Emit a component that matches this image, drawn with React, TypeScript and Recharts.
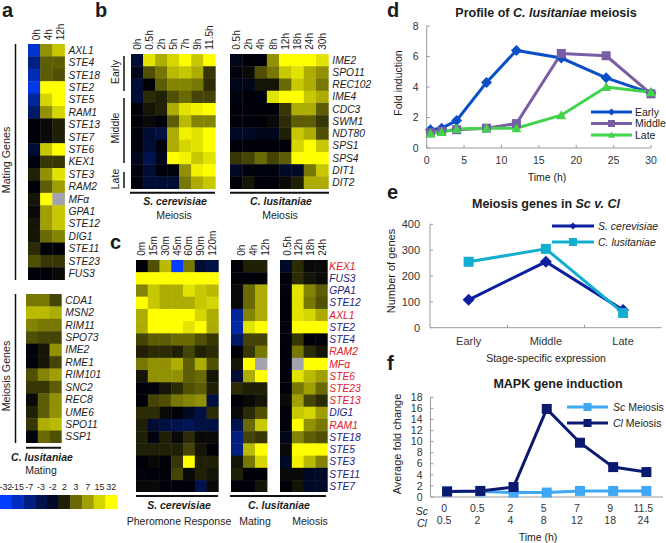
import React from 'react';
import { ScatterChart, Scatter, XAxis, YAxis, LineChart, Line, Legend } from 'recharts';

const G = null; // grey, missing measurement
const FONT = '"Liberation Sans", Arial, sans-serif';
const INK = '#1c1c1c';
const AXIS = '#9a9a9a';

// ---- Panel a
const matingGenesA = ['AXL1','STE4','STE18','STE2','STE5','RAM1','STE13','STE7','STE6','KEX1','STE3','RAM2','MFα','GPA1','STE12','DIG1','STE11','STE23','FUS3'];
const matingHoursA = ['0h','4h','12h'];
const matingValuesA = [
  [-8,6,8],[-5,4,4],[-7,4,3.5],[-9,10,10],[-6,8.5,10],[-4,6,8.5],[0,0.5,1.5],[0,0.5,1.5],[-2,8,10],[-0.5,2.5,2.5],
  [1.5,6,9],[0,4,6.5],[1,10,G],[0.5,6.5,8],[1,6.5,8],[1,4.5,5.5],[2,0,0],[3.5,2.5,2.5],[0,0,0.5],
];
const meiosisGenesA = ['CDA1','MSN2','RIM11','SPO73','IME2','RME1','RIM101','SNC2','REC8','UME6','SPO11','SSP1'];
const meiosisValuesA = [
  [5,5,3],[7.5,7.5,7],[5.5,5,5],[3.5,3,3],[-0.5,1,6],[-0.5,1,3],[3.5,5.5,6.5],[2.5,2.5,4],[0.5,4,6],[1.5,4,6],[2.5,7,7.5],[-0.5,4.5,3.5],
];
const scaleLabels = ['-32','-15','-7','-3','-2','2','3','7','15','32'];
const scaleValues = [[-10,-7.5,-5,-3,-1.5,1.5,4.5,6.5,8.5,10]];

// ---- Panel b
const meiosisGenesB = ['IME2','SPO11','REC102','IME4','CDC3','SWM1','NDT80','SPS1','SPS4','DIT1','DIT2'];
const scHoursB = ['0h','0.5h','2h','5h','7h','9h','11.5h'];
const scValuesB = [
  [-2,9,7,8.5,10,8,10],[-1,3.5,5,7.5,8,7,2.5],[-2,0,4,5.5,5.5,5,2],[-2,2,1.5,3.5,4.5,3,3],[0,1,1.5,7,9,9.5,10],
  [0,0.5,0,4,7.5,5.5,5.5],[-0.5,-2,-2.5,7,9.5,9,10],[-0.5,-2,-0.5,7,8.5,9,10],[-1,-3,-1,10,9.5,8,9],[-0.5,-2,0,-0.5,6,9.5,10],[-0.5,-2,-2,-2,5,7,8],
];
const clHoursB = ['0.5h','2h','4h','8h','12h','18h','24h','30h'];
const clValuesB = [
  [-1,0,0,6,10,10,10,9],[-0.5,0.5,3.5,5,8,9,7,6],[-1,-1,1,1,4.5,8,7,5],[-0.5,0,-0.5,9,10,10,8,7],[0,0,0,0,2.5,7,7,4],
  [0,0,0,0.5,2,4,4,2.5],[-1.5,-1.5,-1,-1,1.5,8,7,3.5],[0,0,0,0,0,8.5,10,8],[2.5,3,4.5,3,4,10,10,10],[-1.5,-0.5,-0.5,-0.5,-1.5,-1.5,5,8],[0,1,0,0,0.5,1.5,7,7],
];

// ---- Panel c
const genesC = ['KEX1','FUS3','GPA1','STE12','AXL1','STE2','STE4','RAM2','MFα','STE6','STE23','STE13','DIG1','RAM1','STE18','STE5','STE3','STE11','STE7'];
const redGenesC = ['KEX1','AXL1','RAM2','MFα','STE6','STE23','STE13','RAM1'];
const pheromoneTimes = ['0m','15m','30m','45m','60m','90m','120m'];
const pheromoneValues = [
  [0,3.5,7.5,-10,5,-2,-2.5],[10,10,10,10,10,10,10],[5.5,8,7,7,9,8,7.5],[10,8,7,7,7,8,8.5],[7,10,10,10,10,8.5,7],[7,10,10,10,9,10,7],
  [3,4,4,4.5,4.5,3.5,2.5],[1.5,2,2,1.5,3,1.5,2],[5,6,6,7,4,7,3.5],[1,6,6,6,4,4.5,1],[0,-0.5,1,2,3.5,4,1.5],[0,3,3.5,5,5.5,6,-2.5],
  [2,2,0.5,0,-1.5,-2.5,2],[1.5,-2,-2.5,-3,-3.5,-2.5,-2.5],[1.5,-0.5,1.5,0.5,2,0.5,0.5],[1.5,1.5,1.5,1.5,3,1,0],[0,0.5,0,2.5,10,1.5,1.5],
  [-0.5,0,0,3,0.5,1.5,1],[0.5,0.5,0,0,0,-3,0.5],
];
const matingHoursC = ['0h','4h','12h'];
const matingValuesC = [
  [0,1.5,1.5],[0,0,0],[0.5,4.5,7],[0.5,4.5,7],[-6,5.5,7],[-6.5,9,10],[-4,3,3],[0,2.5,5],[1,10,G],[-2,7,10],[2,1.5,1.5],[0,0.5,1],
  [0.5,2,3.5],[-3,4.5,8],[-5,3,2.5],[-5,7.5,10],[1,5,8.5],[1.5,0,0],[0,0,1],
];
const meiosisHoursC = ['0.5h','12h','18h','24h'];
const meiosisValuesC = [
  [-1.5,2,0.5,0.5],[0,2,1,0.5],[-0.5,9,5.5,4],[0,9,5,3.5],[0,9,8.5,7],[-0.5,10,10,10],[-0.5,2.5,0,0],[0,5,2,1],[-0.5,G,10,10],[-0.5,9,7.5,6.5],
  [0,5,6.5,4.5],[0.5,6.5,3,2],[-0.5,8,8.5,6.5],[-0.5,10,6,5],[-1,5.5,4,3.5],[0.5,10,10,10],[-1.5,9.5,7.5,5.5],[0.5,0.5,-1.5,-1.5],[0,1,-1.5,-1.5],
];

// ---- Panel d
const hoursD = [0.5,2,4,8,12,18,24,30];
const earlyD = [1.2,1.3,1.8,4.3,6.4,5.9,4.6,3.6];
const middleD = [1.0,1.1,1.2,1.3,1.6,6.2,6.05,3.55];
const lateD = [0.95,1.05,1.25,1.3,1.3,2.15,4.0,3.65];
const tableD = hoursD.map((t, i) => ({ t, early: earlyD[i], middle: middleD[i], late: lateD[i] }));

// ---- Panel e
const stagesE = ['Early','Middle','Late'];
const scE = [108,255,68];
const clE = [255,305,57];
const tableE = stagesE.map((stage, i) => ({ stage, sc: scE[i], cl: clE[i] }));

// ---- Panel f
const scTimesF = ['0','0.5','2','5','7','9','11.5'];
const clTimesF = ['0.5','2','4','8','12','18','24'];
const scF = [1,1,0.8,0.8,1.1,1.1,1.1];
const clF = [1,1.1,1.8,15.9,9.8,5.4,4.5];
const tableF = scTimesF.map((time, i) => ({ time, sc: scF[i], cl: clF[i] }));

const cellColor = (v: number | null) => {
  if (v === null) return '#a3a3ad';
  const f = Math.abs(v) / 10;
  if (v >= 0) {
    const c = Math.round(255 * Math.pow(f, 1.1));
    return `rgb(${c},${c},${Math.round(8 * (1 - f))})`;
  }
  return `rgb(0,${Math.round(62 * f)},${Math.round(255 * f)})`;
};

type HeatProps = {
  x: number; y: number; w: number; h: number; values: (number | null)[][];
  cols?: string[]; rows?: string[]; rowColor?: (g: string) => string; colFont?: number; rowGap?: number; colGap?: number; colShift?: number; horizontalCols?: boolean;
};

function Heat({ x, y, w, h, values, cols, rows, rowColor, colFont = 10, rowGap = 2, colGap = 2.3, colShift = 0, horizontalCols }: HeatProps) {
  const nR = values.length, nC = values[0].length;
  const cw = w / nC, ch = h / nR;
  const data = values.flatMap((row, r) => row.map((v, c) => ({ c, r, v })));
  const top = cols ? 42 : 0;
  const right = rows ? 60 : 0;
  const pad = rows ? 0 : 10;
  const Cell = (p: any) => (
    <rect x={p.cx - cw / 2} y={p.cy - ch / 2} width={cw + 0.4} height={ch + 0.4} fill={cellColor(p.payload.v)} />
  );
  const ColTick = (p: any) => {
    const label = (cols as string[])[p.payload.value];
    if (horizontalCols) {
      return <text x={p.x} y={p.y - colGap} textAnchor="middle" fontSize={colFont} fontFamily={FONT} fill={INK}>{label}</text>;
    }
    const bx = p.x + 3.6 + colShift;
    return (
      <text transform={`rotate(-90 ${bx} ${p.y - colGap})`} x={bx} y={p.y - colGap} fontSize={colFont} fontFamily={FONT} fill={INK}>{label}</text>
    );
  };
  const RowTick = (p: any) => {
    const label = (rows as string[])[p.payload.value];
    return (
      <text x={p.x + rowGap} y={p.y + 3.6} fontSize={10.3} fontStyle="italic" fontFamily={FONT} fill={rowColor ? rowColor(label) : INK}>{label}</text>
    );
  };
  return (
    <div style={{ position: 'absolute', left: x, top: y - top }}>
      <ScatterChart width={w + right + pad} height={h + top} margin={{ top: 0, right: pad, bottom: 0, left: 0 }}>
        <XAxis type="number" dataKey="c" orientation="top" domain={[-0.5, nC - 0.5]} ticks={values[0].map((_, i) => i)} interval={0}
          height={top} hide={!cols} axisLine={false} tickLine={false} tickSize={0} tick={ColTick} />
        <YAxis type="number" dataKey="r" orientation="right" reversed domain={[-0.5, nR - 0.5]} ticks={values.map((_, i) => i)} interval={0}
          width={right} hide={!rows} axisLine={false} tickLine={false} tickSize={0} tick={RowTick} />
        <Scatter data={data} shape={Cell} isAnimationActive={false} />
      </ScatterChart>
    </div>
  );
}

const Diamond = ({ cx, cy, color, r = 6 }: any) => <path d={`M${cx} ${cy - r}L${cx + r} ${cy}L${cx} ${cy + r}L${cx - r} ${cy}Z`} fill={color} />;
const Square = ({ cx, cy, color, r = 4.5 }: any) => <rect x={cx - r} y={cy - r} width={2 * r} height={2 * r} fill={color} />;
const Triangle = ({ cx, cy, color, r = 5.5 }: any) => <path d={`M${cx} ${cy - r}L${cx + r} ${cy + r * 0.8}L${cx - r} ${cy + r * 0.8}Z`} fill={color} />;
const dotOf = (M: any, color: string, r: number) => (p: any) => <M key={p.index} cx={p.cx} cy={p.cy} color={color} r={r} />;

type KeyItem = { color: string; marker: any; r: number; label: React.ReactNode };
const keyLegend = (items: KeyItem[], pitch: number, lineW: number, gap: number, fontSize: number) => () => (
  <svg width={200} height={pitch * items.length + 4} style={{ display: 'block', overflow: 'visible' }}>
    {items.map((it, i) => {
      const M = it.marker;
      const y = pitch * i + 7;
      return (
        <g key={i}>
          <line x1={0} x2={lineW} y1={y} y2={y} stroke={it.color} strokeWidth={3} />
          <M cx={lineW / 2} cy={y} color={it.color} r={it.r} />
          <text x={lineW + gap} y={y + fontSize * 0.36} fontSize={fontSize} fontFamily={FONT} fill={INK}>{it.label}</text>
        </g>
      );
    })}
  </svg>
);

const numTick = { fontSize: 10.5, fontFamily: FONT, fill: '#333' };
const axisLineStyle = { stroke: AXIS };

function PanelD() {
  return (
    <div style={{ position: 'absolute', left: 400, top: 0 }}>
      <LineChart width={266} height={190} data={tableD} margin={{ top: 26, right: 15, bottom: 0, left: 0 }}>
        <XAxis type="number" dataKey="t" domain={[0, 30]} ticks={[0,5,10,15,20,25,30]} interval={0} height={42} axisLine={axisLineStyle} tickLine={axisLineStyle} tickSize={-3} tickMargin={12} tick={numTick} />
        <YAxis type="number" domain={[0, 8]} ticks={[0,2,4,6,8]} interval={0} width={26.7} axisLine={axisLineStyle} tickLine={axisLineStyle} tickSize={-3} tickMargin={11} tick={numTick} />
        <Line dataKey="early" stroke="#0b4fc8" strokeWidth={3} dot={dotOf(Diamond, '#0b4fc8', 5.5)} isAnimationActive={false} />
        <Line dataKey="middle" stroke="#7a5ea3" strokeWidth={3} dot={dotOf(Square, '#7a5ea3', 4.5)} isAnimationActive={false} />
        <Line dataKey="late" stroke="#42d24c" strokeWidth={3} dot={dotOf(Triangle, '#42d24c', 5)} isAnimationActive={false} />
        <Legend layout="vertical" align="center" verticalAlign="middle" wrapperStyle={{ left: 191, top: 105, width: 80, height: 40 }}
          content={keyLegend([
            { color: '#0b4fc8', marker: Diamond, r: 3.5, label: 'Early' },
            { color: '#7a5ea3', marker: Square, r: 3.5, label: 'Middle' },
            { color: '#42d24c', marker: Triangle, r: 3.5, label: 'Late' },
          ], 11.5, 41, 3, 10.5)} />
      </LineChart>
    </div>
  );
}

function PanelE() {
  return (
    <div style={{ position: 'absolute', left: 400, top: 190 }}>
      <LineChart width={266} height={160} data={tableE} margin={{ top: 34.3, right: 4.3, bottom: 0, left: 0 }}>
        <XAxis dataKey="stage" scale="band" height={22.3} axisLine={axisLineStyle} tickLine={false} tickSize={0} tickMargin={9} interval={0} tick={{ ...numTick, fontSize: 11 }} />
        <YAxis type="number" domain={[0, 400]} ticks={[0,100,200,300,400]} interval={0} width={30} axisLine={axisLineStyle} tickLine={axisLineStyle} tickSize={-3} tickMargin={13} tick={{ ...numTick, fontSize: 11 }} />
        <Line dataKey="sc" stroke="#0d1f9e" strokeWidth={3} dot={dotOf(Diamond, '#0d1f9e', 6)} isAnimationActive={false} />
        <Line dataKey="cl" stroke="#12aed0" strokeWidth={3} dot={dotOf(Square, '#12aed0', 5)} isAnimationActive={false} />
        <Legend layout="vertical" align="center" verticalAlign="middle" wrapperStyle={{ left: 152, top: 29, width: 110, height: 32 }}
          content={keyLegend([
            { color: '#0d1f9e', marker: Diamond, r: 3.5, label: <tspan fontStyle="italic">S. cerevisiae</tspan> },
            { color: '#12aed0', marker: Square, r: 4, label: <tspan fontStyle="italic">C. lusitaniae</tspan> },
          ], 16, 42, 4, 10.5)} />
      </LineChart>
    </div>
  );
}

function PanelF() {
  const Tick = (p: any) => {
    const i = p.index ?? p.payload.index;
    return (
      <g fontSize={10.5} fontFamily={FONT} fill="#333" textAnchor="middle">
        <text x={p.x - 3} y={p.y + 14.5}>{scTimesF[i]}</text>
        <text x={p.x - 3} y={p.y + 27}>{clTimesF[i]}</text>
      </g>
    );
  };
  return (
    <div style={{ position: 'absolute', left: 400, top: 360 }}>
      <LineChart width={266} height={170} data={tableF} margin={{ top: 37.3, right: 3, bottom: 0, left: 0 }}>
        <XAxis dataKey="time" scale="band" height={33} axisLine={axisLineStyle} tickLine={false} tickSize={0} tickMargin={0} interval={0} tick={Tick} />
        <YAxis type="number" domain={[0, 18]} ticks={[0,2,4,6,8,10,12,14,16,18]} interval={0} width={30.5} axisLine={axisLineStyle} tickLine={axisLineStyle} tickSize={-3} tickMargin={11} tick={numTick} />
        <Line dataKey="sc" stroke="#3ea8f4" strokeWidth={3} dot={dotOf(Square, '#3ea8f4', 5)} isAnimationActive={false} />
        <Line dataKey="cl" stroke="#0a1a70" strokeWidth={3} dot={dotOf(Square, '#0a1a70', 5)} isAnimationActive={false} />
        <Legend layout="vertical" align="center" verticalAlign="middle" wrapperStyle={{ left: 167, top: 40, width: 100, height: 32 }}
          content={keyLegend([
            { color: '#3ea8f4', marker: Square, r: 4, label: <><tspan fontStyle="italic">Sc</tspan> Meiosis</> },
            { color: '#0a1a70', marker: Square, r: 4, label: <><tspan fontStyle="italic">Cl</tspan> Meiosis</> },
          ], 16, 41, 5, 10.5)} />
      </LineChart>
    </div>
  );
}

const T = ({ x, y, size = 10.5, anchor = 'middle', rot, weight, style, fill = INK, children }: any) => (
  <text x={x} y={y} fontSize={size} textAnchor={anchor} fontWeight={weight} fontStyle={style} fill={fill} fontFamily={FONT}
    transform={rot ? `rotate(${rot} ${x} ${y})` : undefined}>{children}</text>
);
const Rule = ({ x1, y1, x2, y2, w = 1.5 }: any) => <line x1={x1} y1={y1} x2={x2} y2={y2} stroke="#111" strokeWidth={w} />;

function Annotations() {
  return (
    <svg width={666} height={543} style={{ position: 'absolute', left: 0, top: 0, pointerEvents: 'none' }}>
      <T x={2} y={16.5} size={20} weight="bold" anchor="start">a</T>
      <T x={95} y={16.5} size={20} weight="bold" anchor="start">b</T>
      <T x={110} y={249} size={20} weight="bold" anchor="start">c</T>
      <T x={387} y={16.5} size={20} weight="bold" anchor="start">d</T>
      <T x={387} y={199} size={20} weight="bold" anchor="start">e</T>
      <T x={387} y={370} size={20} weight="bold" anchor="start">f</T>

      <T x={10} y={160} rot={-90} size={10.7}>Mating Genes</T>
      <Rule x1={15.5} y1={44} x2={15.5} y2={280} />
      <T x={10} y={376} rot={-90} size={10.7}>Meiosis Genes</T>
      <Rule x1={15.5} y1={294} x2={15.5} y2={443} />
      <Rule x1={26} y1={447.7} x2={61} y2={447.7} w={2} />
      <T x={42} y={461} weight="bold" style="italic">C. lusitaniae</T>
      <T x={41} y={474}>Mating</T>

      <T x={119} y={72} rot={-90}>Early</T>
      <Rule x1={124} y1={56} x2={124} y2={91} />
      <T x={119} y={128} rot={-90}>Middle</T>
      <Rule x1={124} y1={98} x2={124} y2={163} />
      <T x={119} y={179} rot={-90}>Late</T>
      <Rule x1={124} y1={172} x2={124} y2={188} />
      <Rule x1={130} y1={192.7} x2={215} y2={192.7} w={2} />
      <Rule x1={230} y1={192.7} x2={329} y2={192.7} w={2} />
      <T x={175} y={205} weight="bold" style="italic">S. cerevisiae</T>
      <T x={281} y={205} weight="bold" style="italic">C. lusitaniae</T>
      <T x={174} y={219}>Meiosis</T>
      <T x={280} y={219}>Meiosis</T>

      <Rule x1={136} y1={496} x2={218} y2={496} w={2} />
      <Rule x1={230} y1={496} x2={326} y2={496} w={2} />
      <T x={179} y={509} weight="bold" style="italic">S. cerevisiae</T>
      <T x={279} y={509} weight="bold" style="italic">C. lusitaniae</T>
      <T x={179} y={525}>Pheromone Response</T>
      <T x={255} y={525}>Mating</T>
      <T x={310} y={525}>Meiosis</T>

      <T x={546} y={17} size={12.5} weight="bold">Profile of <tspan fontStyle="italic">C. lusitaniae</tspan> meiosis</T>
      <T x={402} y={83} rot={-90}>Fold induction</T>
      <T x={547} y={181}>Time (h)</T>

      <T x={546} y={207.5} size={12.5} weight="bold">Meiosis genes in <tspan fontStyle="italic">Sc v. Cl</tspan></T>
      <T x={395} y={271} rot={-90} size={11}>Number of genes</T>
      <T x={546} y={362}>Stage-specific expression</T>
      <line x1={507.5} x2={507.5} y1={324.7} y2={327.7} stroke={AXIS} />
      <line x1={584.5} x2={584.5} y1={324.7} y2={327.7} stroke={AXIS} />

      <T x={558} y={388} size={12.5} weight="bold">MAPK gene induction</T>
      <T x={401} y={444} rot={-90} size={11}>Average fold change</T>
      <T x={422} y={514.5} size={10.5} style="italic">Sc</T>
      <T x={422} y={526.5} size={10.5} style="italic">Cl</T>
      <T x={538} y={541}>Time (h)</T>
    </svg>
  );
}

const geneColor = (g: string) => (redGenesC.includes(g) ? '#e0202a' : '#23237f');

export default function App() {
  return (
    <div style={{ position: 'absolute', left: 0, top: 0, width: 666, height: 543, background: '#fff', overflow: 'hidden' }}>
      <Heat x={27.5} y={44.3} w={36.5} h={235.7} values={matingValuesA} cols={matingHoursA} rows={matingGenesA} colShift={2} colGap={1.7} />
      <Heat x={26} y={294.3} w={35.3} h={149} values={meiosisValuesA} rows={meiosisGenesA} />
      <Heat x={0} y={495} w={117} h={14} values={scaleValues} cols={scaleLabels} colFont={8.8} horizontalCols colGap={3} />
      <Heat x={130.7} y={54.3} w={84.3} h={134.7} values={scValuesB} cols={scHoursB} />
      <Heat x={230} y={54.3} w={98.3} h={134.7} values={clValuesB} cols={clHoursB} rows={meiosisGenesB} />
      <Heat x={136} y={260} w={82.3} h={232.3} values={pheromoneValues} cols={pheromoneTimes} />
      <Heat x={230.7} y={260} w={36} h={232.3} values={matingValuesC} cols={matingHoursC} colShift={4} />
      <Heat x={280} y={260} w={47.3} h={232.3} values={meiosisValuesC} cols={meiosisHoursC} rows={genesC} rowColor={geneColor} rowGap={0} colShift={1} />
      <PanelD />
      <PanelE />
      <PanelF />
      <Annotations />
    </div>
  );
}
